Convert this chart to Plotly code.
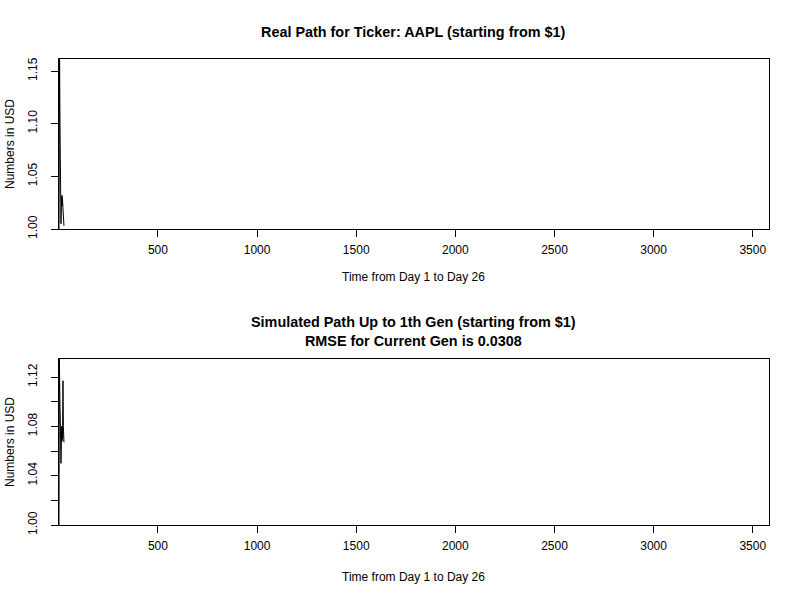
import plotly.graph_objects as go

days = list(range(1, 27))
real_path = [1.000, 1.05, 1.12, 1.161, 1.13, 1.10, 1.08, 1.06, 1.04, 1.02, 1.005, 1.01, 1.02,
             1.03, 1.025, 1.032, 1.022, 1.03, 1.024, 1.028, 1.02, 1.012, 1.005, 1.003, 1.004, 1.003]
sim_path = [1.00, 1.06, 1.1346, 1.12, 1.10, 1.095, 1.09, 1.08, 1.07, 1.06, 1.05, 1.055, 1.065,
            1.08, 1.07, 1.075, 1.068, 1.078, 1.07, 1.09, 1.117, 1.10, 1.08, 1.07, 1.068, 1.067]

x_ticks = [500, 1000, 1500, 2000, 2500, 3000, 3500]
top_yticks = [1.00, 1.05, 1.10, 1.15]
top_ytext = ["1.00", "1.05", "1.10", "1.15"]
bot_yticks = [1.00, 1.02, 1.04, 1.06, 1.08, 1.10, 1.12]
bot_ytext = ["1.00", "", "1.04", "", "1.08", "", "1.12"]

title_top = "Real Path for Ticker: AAPL (starting from $1)"
title_bot = "Simulated Path Up to 1th Gen (starting from $1)<br>RMSE for Current Gen is 0.0308"
xlabel = "Time from Day 1 to Day 26"
ylabel = "Numbers in USD"

FONT = "Liberation Sans, Arial, sans-serif"

fig = go.Figure()
fig.add_trace(go.Scatter(x=days, y=real_path, mode="lines", line=dict(color="black", width=1),
                         xaxis="x", yaxis="y", showlegend=False))
fig.add_trace(go.Scatter(x=days, y=sim_path, mode="lines", line=dict(color="black", width=1),
                         xaxis="x2", yaxis="y2", showlegend=False))

W, H = 800, 600
L, R = 59, 769
T1, B1 = 59, 229
T2, B2 = 359, 525

xr = [1, 3582]

def xaxis_cfg(anchor):
    return dict(domain=[L / W, R / W], range=xr, tickvals=x_ticks, ticks="outside", ticklen=7,
                tickcolor="black", showline=True, mirror=True, linecolor="black", linewidth=1,
                showgrid=False, zeroline=False, anchor=anchor, ticklabelstandoff=3,
                tickfont=dict(family=FONT, size=12, color="black"))

def yaxis_cfg(anchor, dom, rng, tv, tt):
    return dict(domain=dom, range=rng, tickvals=tv, ticktext=tt, ticks="outside", ticklen=7,
                tickcolor="black", showline=True, mirror=True, linecolor="black", linewidth=1,
                showgrid=False, zeroline=False, anchor=anchor, tickangle=-90, ticklabelstandoff=9,
                tickfont=dict(family=FONT, size=12, color="black"))

fig.update_layout(
    width=W, height=H, margin=dict(l=0, r=0, t=0, b=0, autoexpand=False),
    paper_bgcolor="white", plot_bgcolor="white",
    xaxis=xaxis_cfg("y"),
    yaxis=yaxis_cfg("x", [1 - B1 / H, 1 - T1 / H], [1.0, 1.1614], top_yticks, top_ytext),
    xaxis2=xaxis_cfg("y2"),
    yaxis2=yaxis_cfg("x2", [1 - B2 / H, 1 - T2 / H], [1.0, 1.1346], bot_yticks, bot_ytext),
    font=dict(family=FONT, size=12, color="black"),
)

cx = (L + R) / 2 / W
ann = [
    dict(text="<b>" + title_top + "</b>", x=cx, y=1 - 32 / H, font=dict(size=14.4)),
    dict(text="<b>" + title_bot + "</b>", x=cx, y=1 - 331 / H, font=dict(size=14.4)),
    dict(text=xlabel, x=cx, y=1 - 277 / H, font=dict(size=12)),
    dict(text=xlabel, x=cx, y=1 - 577 / H, font=dict(size=12)),
    dict(text=ylabel, x=10 / W, y=1 - (T1 + B1) / 2 / H, textangle=-90, font=dict(size=12)),
    dict(text=ylabel, x=10 / W, y=1 - (T2 + B2) / 2 / H, textangle=-90, font=dict(size=12)),
]
for a in ann:
    a.update(xref="paper", yref="paper", showarrow=False, xanchor="center", yanchor="middle")
    a["font"].update(family=FONT, color="black")
fig.update_layout(annotations=ann)

fig.write_html("out.html")
